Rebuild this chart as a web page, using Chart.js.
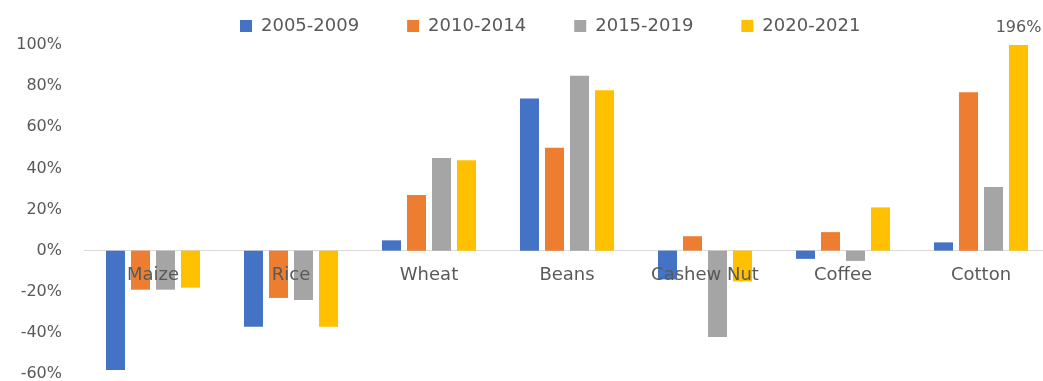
<!DOCTYPE html>
<html lang="en">
<head>
  <meta charset="UTF-8">
  <title>Price change by crop</title>
  <style>
    body {
      margin: 0;
      background: #ffffff;
      overflow: hidden;
    }
    .wrap {
      position: relative;
      width: 1052px;
      height: 381px;
    }
  </style>
</head>
<body>
  <div class="wrap">
    <canvas id="cropChart"></canvas>
  </div>

  <script src="https://cdn.jsdelivr.net/npm/chart.js"></script>
  <script>
    const crops = ['Maize', 'Rice', 'Wheat', 'Beans', 'Cashew Nut', 'Coffee', 'Cotton'];
    const periods = ['2005-2009', '2010-2014', '2015-2019', '2020-2021'];
    const colors = ['#4472C4', '#ED7D31', '#A5A5A5', '#FFC000'];

    // percent change per crop, one array per period
    const p2005 = [-58, -37, 5, 74, -14, -4, 4];
    const p2010 = [-19, -23, 27, 50, 7, 9, 77];
    const p2015 = [-19, -24, 45, 85, -42, -5, 31];
    const p2020 = [-18, -37, 44, 78, -15, 21, 196];

    const yTicks = [-60, -40, -20, 0, 20, 40, 60, 80, 100];

    const textColor = '#595959';
    const fontFamily = '"DejaVu Sans", sans-serif';

    // legend sits left of centre, pull it into place after layout
    const legendPlace = {
      id: 'legendPlace',
      afterLayout(chart) {
        const lg = chart.legend;
        const pad = lg.options.labels.padding;
        const w = lg.right - lg.left;
        lg.left = 240 - pad;
        lg.right = lg.left + w;
        lg.top = 17 - pad;
      }
    };

    // value label for the bar that runs off the top of the axis
    const overflowLabel = {
      id: 'overflowLabel',
      afterDatasetsDraw(chart) {
        const { ctx, chartArea, scales } = chart;
        chart.data.datasets.forEach((ds, i) => {
          const meta = chart.getDatasetMeta(i);
          ds.data.forEach((v, j) => {
            if (v > scales.y.max) {
              const bar = meta.data[j];
              ctx.save();
              ctx.font = '16px ' + fontFamily;
              ctx.fillStyle = textColor;
              ctx.textAlign = 'center';
              ctx.textBaseline = 'middle';
              ctx.fillText(v + '%', bar.x, chartArea.top - 17);
              ctx.restore();
            }
          });
        });
      }
    };

    const series = [p2005, p2010, p2015, p2020];

    new Chart(document.getElementById('cropChart'), {
      type: 'bar',
      data: {
        labels: crops,
        datasets: series.map((d, i) => ({
          label: periods[i],
          data: d,
          backgroundColor: colors[i],
          categoryPercentage: 0.725,
          barPercentage: 0.76
        }))
      },
      options: {
        responsive: true,
        maintainAspectRatio: false,
        animation: false,
        layout: { padding: { left: 0, right: 2, top: 0, bottom: 7 } },
        plugins: {
          legend: {
            position: 'top',
            align: 'start',
            maxHeight: 45,
            labels: {
              boxWidth: 12,
              boxHeight: 12,
              padding: 48,
              color: textColor,
              font: { family: fontFamily, size: 18 }
            }
          },
          tooltip: { enabled: false }
        },
        scales: {
          x: {
            position: { y: 0 },
            afterFit(scale) { scale.height = 0; },
            grid: { display: false, drawTicks: false },
            border: { display: true, color: '#d9d9d9', width: 1 },
            ticks: {
              z: 1,
              color: textColor,
              font: { family: fontFamily, size: 18 },
              padding: 14,
              maxRotation: 0,
              autoSkip: false
            }
          },
          y: {
            min: yTicks[0],
            max: yTicks[yTicks.length - 1],
            afterFit(scale) {
              scale.width = 84;
              scale.paddingTop = 0;
              scale.paddingBottom = 0;
            },
            afterBuildTicks(scale) { scale.ticks = yTicks.map(v => ({ value: v })); },
            grid: { display: false, drawTicks: false },
            border: { display: false },
            ticks: {
              color: textColor,
              font: { family: fontFamily, size: 16 },
              padding: 22,
              callback: v => v + '%'
            }
          }
        }
      },
      plugins: [legendPlace, overflowLabel]
    });
  </script>
</body>
</html>
